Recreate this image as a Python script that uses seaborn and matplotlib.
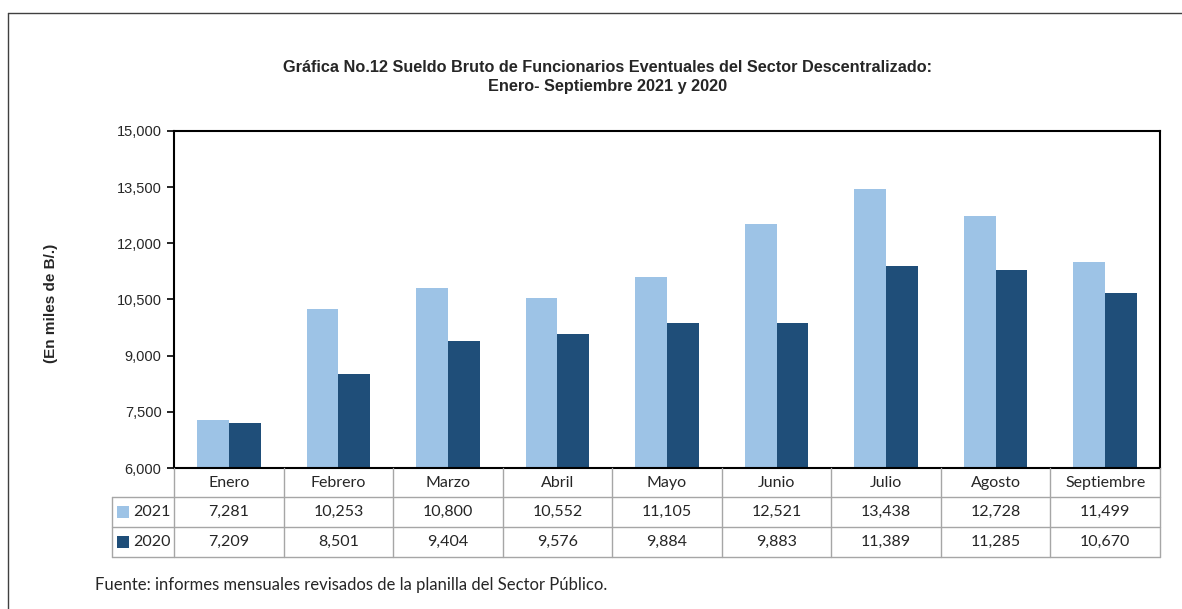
import matplotlib
matplotlib.use("Agg")
import matplotlib.pyplot as plt
import seaborn as sns
import pandas as pd
from matplotlib.lines import Line2D
from matplotlib.patches import Rectangle

meses = ["Enero", "Febrero", "Marzo", "Abril", "Mayo", "Junio", "Julio",
         "Agosto", "Septiembre"]
anios = ["2021", "2020"]
valores_2021 = [7281, 10253, 10800, 10552, 11105, 12521, 13438, 12728, 11499]
valores_2020 = [7209, 8501, 9404, 9576, 9884, 9883, 11389, 11285, 10670]
colores = ["#9DC3E6", "#1F4E79"]
y_ticks = [6000, 7500, 9000, 10500, 12000, 13500, 15000]

df = pd.DataFrame({
    "mes": meses * 2,
    "anio": ["2021"] * len(meses) + ["2020"] * len(meses),
    "valor": valores_2021 + valores_2020,
})

sns.set_style("white")
W, H = 1182, 609
fig = plt.figure(figsize=(W / 100, H / 100), dpi=100)


def fx(px):
    return px / W


def fy(py):
    return 1 - py / H


ax_l, ax_r, ax_t, ax_b = 174, 1160, 131, 468
ax = fig.add_axes([fx(ax_l), fy(ax_b), fx(ax_r) - fx(ax_l), fy(ax_t) - fy(ax_b)])

sns.barplot(data=df, x="mes", y="valor", hue="anio", hue_order=anios,
            palette=colores, width=0.58, saturation=1, linewidth=0,
            ax=ax, legend=False)

ax.set_ylim(6000, 15000)
ax.set_yticks(y_ticks)
ax.set_yticklabels([f"{v:,}" for v in y_ticks], fontfamily="Liberation Sans",
                   fontsize=10.5)
ax.set_xlim(-0.5, len(meses) - 0.5)
ax.set_xticks([])
ax.set_xlabel("")
ax.set_ylabel("")
ax.tick_params(axis="y", direction="out", length=5, width=1.2, color="black",
               left=True, pad=4)
for s in ax.spines.values():
    s.set_color("black")
    s.set_linewidth(1.5)

# Título
titulo_font = dict(ha="center", va="center", fontsize=11.7, fontweight="bold",
                   fontfamily="Liberation Sans")
fig.text(fx(608), fy(67), "Gráfica No.12 Sueldo Bruto de Funcionarios Eventuales del Sector Descentralizado:",
         **titulo_font)
fig.text(fx(608), fy(86), "Enero- Septiembre 2021 y 2020", **titulo_font)

fig.text(fx(51), fy(303), "(En miles de B/.)", rotation=90, ha="center",
         va="center", fontsize=11, fontweight="bold", fontfamily="Liberation Sans")

# Tabla de datos
gris = "#A6A6A6"
tf = fig.transFigure
col_w = (ax_r - ax_l) / len(meses)
rows = [468, 497, 527, 557]
left_col = 112


def hline(y, x0, x1):
    fig.add_artist(Line2D([fx(x0), fx(x1)], [fy(y), fy(y)], color=gris, lw=1,
                          transform=tf))


def vline(x, y0, y1):
    fig.add_artist(Line2D([fx(x), fx(x)], [fy(y0), fy(y1)], color=gris, lw=1,
                          transform=tf))


for y in rows[1:]:
    hline(y, left_col, ax_r)
vline(left_col, rows[1], rows[3])
for k in range(len(meses) + 1):
    vline(ax_l + k * col_w, rows[0], rows[3])

tabla_font = dict(fontfamily="Lato", fontsize=11.5, ha="center", va="center")
for i, mes in enumerate(meses):
    cx = ax_l + (i + 0.5) * col_w
    fig.text(fx(cx), fy(483), mes, **tabla_font)
    fig.text(fx(cx), fy(512), f"{valores_2021[i]:,}", **tabla_font)
    fig.text(fx(cx), fy(542), f"{valores_2020[i]:,}", **tabla_font)

for j, (anio, c) in enumerate(zip(anios, colores)):
    yc = 512 + 30 * j
    fig.add_artist(Rectangle((fx(117), fy(yc + 6)), fx(12), fy(0) - fy(12),
                             facecolor=c, edgecolor="none", transform=tf))
    fig.text(fx(133), fy(yc), anio, fontfamily="Lato", fontsize=11.5,
             ha="left", va="center")

fig.text(fx(95), fy(585), "Fuente: informes mensuales revisados de la planilla del Sector Público.",
         fontfamily="Lato", fontsize=12, ha="left", va="center")

# Marco exterior
fig.add_artist(Line2D([fx(8), 1], [fy(13), fy(13)], color="#404040", lw=1,
                      transform=tf))
fig.add_artist(Line2D([fx(8), fx(8)], [fy(13), 0], color="#404040", lw=1,
                      transform=tf))

fig.savefig("out.png", dpi=100)
